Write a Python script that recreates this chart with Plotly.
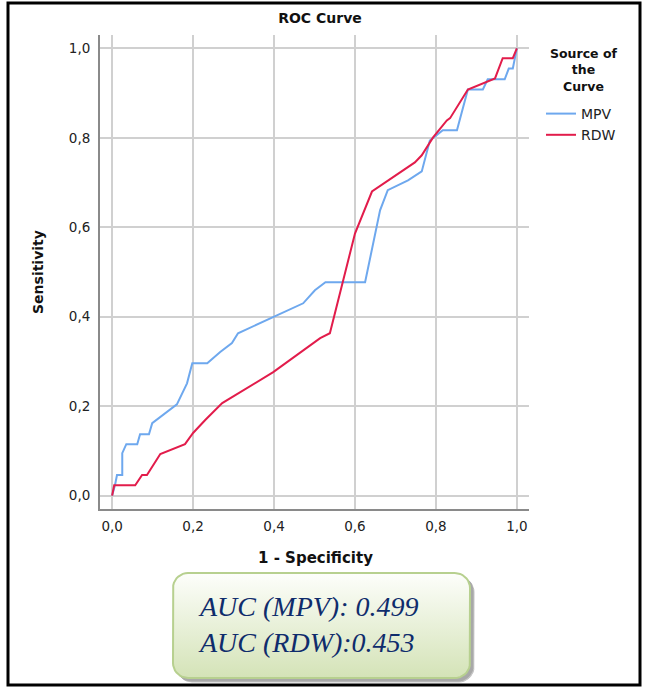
import numpy as np
import plotly.graph_objects as go

# ---------------- data ----------------
mpv_fpr = [0, 0.007, 0.012, 0.025, 0.025, 0.035, 0.062, 0.069, 0.091, 0.099,
           0.16, 0.185, 0.198, 0.235, 0.267, 0.296, 0.311, 0.398, 0.472, 0.501,
           0.527, 0.625, 0.662, 0.681, 0.706, 0.723, 0.731, 0.765, 0.785, 0.8,
           0.817, 0.852, 0.879, 0.916, 0.928, 0.97, 0.98, 0.99, 1.0]
mpv_tpr = [0, 0.023, 0.046, 0.046, 0.095, 0.115, 0.115, 0.137, 0.137, 0.162,
           0.204, 0.251, 0.296, 0.296, 0.321, 0.341, 0.363, 0.399, 0.43, 0.459,
           0.477, 0.477, 0.638, 0.683, 0.694, 0.703, 0.705, 0.725, 0.794, 0.805,
           0.817, 0.817, 0.908, 0.908, 0.931, 0.931, 0.955, 0.955, 1.0]

rdw_fpr = [0, 0.005, 0.057, 0.074, 0.086, 0.119, 0.18, 0.2, 0.23, 0.272,
           0.398, 0.514, 0.538, 0.558, 0.6, 0.642, 0.748, 0.765, 0.793, 0.827,
           0.835, 0.879, 0.946, 0.965, 0.99, 1.0]
rdw_tpr = [0, 0.023, 0.023, 0.046, 0.046, 0.093, 0.115, 0.14, 0.169, 0.207,
           0.276, 0.352, 0.363, 0.437, 0.586, 0.68, 0.745, 0.761, 0.801, 0.839,
           0.844, 0.908, 0.933, 0.978, 0.978, 1.0]

series_names = ["MPV", "RDW"]
tick_vals = [0.0, 0.2, 0.4, 0.6, 0.8, 1.0]
tick_text = ["0,0", "0,2", "0,4", "0,6", "0,8", "1,0"]
legend_title_lines = ["Source of", "the", "Curve"]
auc_lines = ["AUC (MPV): 0.499", "AUC (RDW):0.453"]

W, H = 649, 688
SANS = "DejaVu Sans"


def rounded_rect(x0, y0, x1, y1, r, n=10):
    xs, ys = [], []
    corners = [(x1 - r, y0 + r, -90, 0), (x1 - r, y1 - r, 0, 90),
               (x0 + r, y1 - r, 90, 180), (x0 + r, y0 + r, 180, 270)]
    for cx, cy, a0, a1 in corners:
        t = np.radians(np.linspace(a0, a1, n))
        xs.extend(cx + r * np.cos(t))
        ys.extend(cy + r * np.sin(t))
    xs.append(xs[0]); ys.append(ys[0])
    return xs, ys


fig = go.Figure()
fig.add_trace(go.Scatter(x=mpv_fpr, y=mpv_tpr, mode="lines", name=series_names[0],
                         line=dict(color="#6ea8ee", width=2)))
fig.add_trace(go.Scatter(x=rdw_fpr, y=rdw_tpr, mode="lines", name=series_names[1],
                         line=dict(color="#e21c4b", width=2)))

# AUC box (pixel coordinates on a hidden overlay axis pair)
bx0, by0, bx1, by1 = 173, 573, 470, 678
for k, col in ((4, "#c4c4c4"), (3, "#a8a8a8")):
    sx, sy = rounded_rect(bx0 + k, by0 + k, bx1 + k, by1 + k, 15)
    fig.add_trace(go.Scatter(x=sx, y=sy, xaxis="x2", yaxis="y2", mode="lines",
                             fill="toself", fillcolor=col,
                             line=dict(color=col, width=1),
                             showlegend=False, hoverinfo="skip"))
rx, ry = rounded_rect(bx0, by0, bx1, by1, 15)
fig.add_trace(go.Scatter(x=rx, y=ry, xaxis="x2", yaxis="y2", mode="lines",
                         fill="toself",
                         fillgradient=dict(type="vertical", start=by0, stop=by1,
                                           colorscale=[[0, "#fdfefb"], [1, "#d4e3b7"]]),
                         line=dict(color="#b7d08f", width=2),
                         showlegend=False, hoverinfo="skip"))

fig.add_annotation(x=196, y=624, xref="x2", yref="y2", xanchor="left", yanchor="middle",
                   text="<br>".join(auc_lines), showarrow=False, align="left",
                   font=dict(family="Liberation Serif", size=28, color="#0f2c6c", style="italic"))

# axis titles
fig.add_annotation(x=38, y=272, xref="x2", yref="y2", text="<b>Sensitivity</b>",
                   textangle=-90, showarrow=False,
                   font=dict(family=SANS, size=14, color="#111111"))
fig.add_annotation(x=315, y=558, xref="x2", yref="y2", text="<b>1 - Specificity</b>",
                   showarrow=False, font=dict(family=SANS, size=15, color="#111111"))

# legend title (centred, three lines)
fig.add_annotation(x=583, y=70, xref="x2", yref="y2",
                   text="<b>" + "<br>".join(legend_title_lines) + "</b>",
                   showarrow=False, xanchor="center", yanchor="middle", align="center",
                   font=dict(family=SANS, size=12.5, color="#111111"))

# outer frame
fig.add_shape(type="rect", xref="x2", yref="y2", x0=8, x1=640, y0=3, y1=685,
              line=dict(color="black", width=3), fillcolor="rgba(0,0,0,0)")

axis_common = dict(range=[-0.03, 1.03], tickvals=tick_vals, ticktext=tick_text,
                   showgrid=True, gridcolor="#d0d0d0", gridwidth=2,
                   showline=True, linecolor="#8a8a8a", linewidth=2,
                   zeroline=False, ticks="", fixedrange=True,
                   tickfont=dict(family=SANS, size=13.5, color="#222222"))

fig.update_layout(
    width=W, height=H, autosize=False,
    margin=dict(l=0, r=0, t=0, b=0),
    paper_bgcolor="white", plot_bgcolor="rgba(0,0,0,0)",
    title=dict(text="<b>ROC Curve</b>", x=320 / W, y=1 - 18 / H,
               xanchor="center", yanchor="middle", xref="paper", yref="paper",
               font=dict(family=SANS, size=14, color="#111111")),
    xaxis=dict(domain=[100 / W, 529 / W], anchor="y", ticklabelstandoff=4, **axis_common),
    yaxis=dict(domain=[(H - 509) / H, (H - 35) / H], anchor="x", ticklabelstandoff=5, **axis_common),
    xaxis2=dict(domain=[0, 1], range=[0, W], visible=False, anchor="y2", fixedrange=True),
    yaxis2=dict(domain=[0, 1], range=[H, 0], visible=False, anchor="x2", fixedrange=True),
    legend=dict(x=541 / W, y=1 - 98 / H, xanchor="left", yanchor="top",
                bgcolor="rgba(0,0,0,0)", tracegroupgap=0,
                font=dict(family=SANS, size=14, color="#222222")),
    showlegend=True,
)

fig.write_html("out.html")
